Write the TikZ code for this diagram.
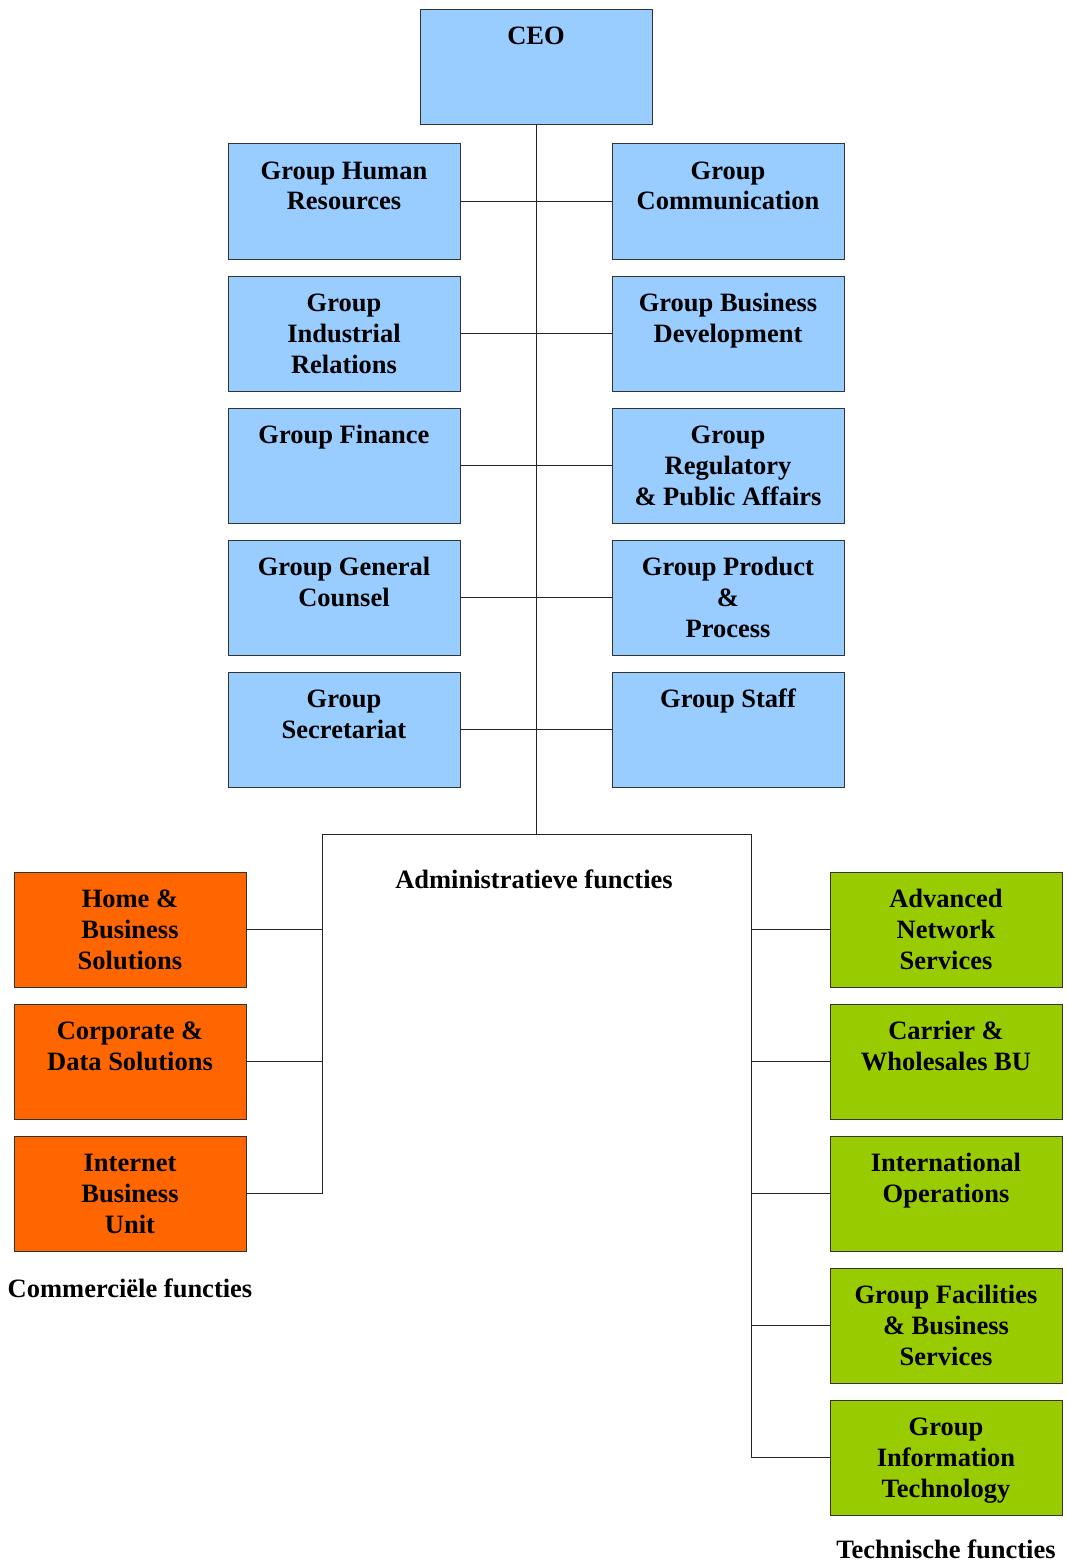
\documentclass[tikz,border=0pt]{standalone}
\usepackage{fontspec}
\setmainfont{Liberation Serif}
\definecolor{bblue}{HTML}{99CCFF}
\definecolor{borange}{HTML}{FF6600}
\definecolor{bgreen}{HTML}{99CC00}
\newcommand{\bxt}[1]{\parbox[c][115pt][t]{232pt}{\centering\rule{0pt}{35pt}#1}}
\begin{document}
\begin{tikzpicture}[x=1pt,y=-1pt,
  every node/.style={font=\fontsize{26.5}{31}\selectfont\bfseries},
  orgbox/.style={draw=black!80,line width=1pt,inner sep=0pt,outer sep=0pt,anchor=north west},
  bluebox/.style={orgbox,fill=bblue},
  orangebox/.style={orgbox,fill=borange},
  greenbox/.style={orgbox,fill=bgreen},
  conn/.style={draw=black!85,line width=1pt},
  lbl/.style={anchor=base,inner sep=0pt}]
\useasboundingbox (0,0) rectangle (1066,1565);
% CEO
\node[bluebox] (ceo) at (420,10) {\bxt{CEO}};
% left column
\node[bluebox] (ghr) at (228,144) {\bxt{Group Human\\Resources}};
\node[bluebox] (gir) at (228,276) {\bxt{Group\\Industrial\\Relations}};
\node[bluebox] (gf)  at (228,408) {\bxt{Group Finance}};
\node[bluebox] (ggc) at (228,540) {\bxt{Group General\\Counsel}};
\node[bluebox] (gs)  at (228,672) {\bxt{Group\\Secretariat}};
% right column
\node[bluebox] (gc)  at (612,144) {\bxt{Group\\Communication}};
\node[bluebox] (gbd) at (612,276) {\bxt{Group Business\\Development}};
\node[bluebox] (grp) at (612,408) {\bxt{Group\\Regulatory\\\& Public Affairs}};
\node[bluebox] (gpp) at (612,540) {\bxt{Group Product\\\&\\Process}};
\node[bluebox] (gst) at (612,672) {\bxt{Group Staff}};
% commercial
\node[orangebox] (hbs) at (14,872)  {\bxt{Home \&\\Business\\Solutions}};
\node[orangebox] (cds) at (14,1004) {\bxt{Corporate \&\\Data Solutions}};
\node[orangebox] (ibu) at (14,1136) {\bxt{Internet\\Business\\Unit}};
% technical
\node[greenbox] (ans) at (830,872)  {\bxt{Advanced\\Network\\Services}};
\node[greenbox] (cwb) at (830,1004) {\bxt{Carrier \&\\Wholesales BU}};
\node[greenbox] (io)  at (830,1136) {\bxt{International\\Operations}};
\node[greenbox] (gfb) at (830,1268) {\bxt{Group Facilities\\\& Business\\Services}};
\node[greenbox] (git) at (830,1400) {\bxt{Group\\Information\\Technology}};
% labels
\node[lbl] (ladm) at (534,888) {Administratieve functies};
\node[lbl] (lcom) at (130,1297) {Commerciële functies};
\node[lbl] (ltec) at (946,1558) {Technische functies};
% connectors
\coordinate (jc) at (536,834);
\coordinate (jl) at (322,834);
\coordinate (jr) at (751,834);
\draw[conn] (ceo.south) -- (jc);
\draw[conn] (jl) -- (jr);
\foreach \a/\b in {ghr/gc,gir/gbd,gf/grp,ggc/gpp,gs/gst}
  \draw[conn] (\a.east) -- (\b.west);
\draw[conn] (jl) |- (ibu.east);
\draw[conn] (hbs.east) -- (hbs.east -| jl);
\draw[conn] (cds.east) -- (cds.east -| jl);
\draw[conn] (jr) |- (git.west);
\foreach \n in {ans,cwb,io,gfb}
  \draw[conn] (\n.west) -- (\n.west -| jr);
\end{tikzpicture}
\end{document}
